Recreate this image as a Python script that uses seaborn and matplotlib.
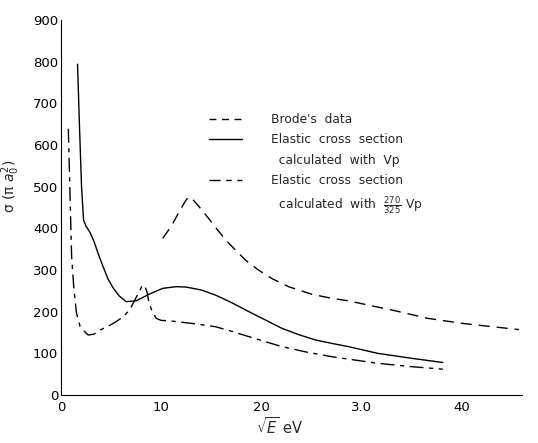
import matplotlib
matplotlib.use("Agg")
import matplotlib.pyplot as plt
import seaborn as sns
import pandas as pd
from matplotlib.lines import Line2D
from matplotlib.ticker import MultipleLocator, FixedLocator, FixedFormatter

# Brode's data (dashed)
brode_x = [10.15, 11.0, 11.8, 12.4, 12.7, 13.2, 14.2, 15.4, 16.4, 17.4, 18.5, 19.7,
           21.0, 22.7, 25.0, 27.0, 28.7, 31.0, 33.0, 36.6, 40.0, 43.0, 45.7]
brode_y = [376, 405, 440, 465, 475, 468, 440, 403, 373, 348, 322, 300,
           280, 260, 242, 232, 226, 214, 204, 184, 172, 164, 157]

# Elastic cross section with Vp (solid)
vp_x = [1.65, 1.85, 2.05, 2.25, 2.5, 2.9, 3.3, 3.7, 4.2, 4.7, 5.2, 5.8, 6.5, 7.5,
        8.8, 10.15, 11.5, 12.5, 14.0, 15.4, 17.0, 18.75, 20.4, 22.05, 23.7, 25.4,
        27.0, 28.7, 31.6, 35.0, 38.1]
vp_y = [794, 640, 500, 420, 405, 390, 368, 340, 308, 278, 257, 238, 224, 226,
        242, 256, 260, 259, 252, 240, 222, 200, 180, 160, 145, 132,
        124, 116, 100, 88, 78]

# Elastic cross section with 270/325 Vp (dash-dot)
vps_x = [0.73, 0.9, 1.06, 1.3, 1.55, 1.9, 2.2, 2.7, 3.3, 3.9, 4.7, 5.5, 6.2, 6.85,
         7.3, 7.8, 8.05, 8.3, 8.55, 8.8, 9.1, 9.5, 10.0, 10.8, 13.0, 15.4, 17.0,
         18.75, 20.4, 22.05, 24.5, 27.0, 31.6, 35.0, 38.1]
vps_y = [639, 480, 332, 250, 196, 165, 156, 144, 146, 156, 165, 176, 188, 204,
         225, 248, 260, 264, 250, 220, 200, 184, 179, 178, 172, 164, 153,
         140, 128, 116, 103, 92, 76, 68, 62]

x_ticks = [0, 10, 20, 30, 40]
x_tick_labels = ["0", "10", "20", "3.0", "40"]
y_ticks = [0, 100, 200, 300, 400, 500, 600, 700, 800, 900]

sns.set_theme(style="white")
plt.rcParams['font.family'] = ['DejaVu Sans']
plt.rcParams['mathtext.fontset'] = 'dejavusans'

fig = plt.figure(figsize=(5.38, 4.43), dpi=100)
ax = fig.add_axes([61/538, 1 - 395/443, 461/538, 375/443])

df_b = pd.DataFrame({"x": brode_x, "y": brode_y})
df_v = pd.DataFrame({"x": vp_x, "y": vp_y})
df_s = pd.DataFrame({"x": vps_x, "y": vps_y})

lw = 1.0
sns.lineplot(data=df_b, x="x", y="y", ax=ax, color="black", lw=lw, sort=False,
             estimator=None, linestyle=(0, (8, 5)))
sns.lineplot(data=df_v, x="x", y="y", ax=ax, color="black", lw=lw, sort=False,
             estimator=None)
sns.lineplot(data=df_s, x="x", y="y", ax=ax, color="black", lw=lw, sort=False,
             estimator=None, linestyle=(0, (10, 4, 3, 4)))

ax.set_xlim(0, 46)
ax.set_ylim(0, 900)
ax.xaxis.set_major_locator(FixedLocator(x_ticks))
ax.xaxis.set_major_formatter(FixedFormatter(x_tick_labels))
ax.xaxis.set_minor_locator(MultipleLocator(2))
ax.yaxis.set_major_locator(FixedLocator(y_ticks))
ax.yaxis.set_minor_locator(MultipleLocator(50))

for s in ["top", "right"]:
    ax.spines[s].set_visible(False)
for s in ["left", "bottom"]:
    ax.spines[s].set_color("black")
    ax.spines[s].set_linewidth(0.8)

ax.tick_params(axis="both", which="both", direction="in", colors="black",
               labelsize=9.5, width=0.7)
ax.tick_params(axis="both", which="major", length=5)
ax.tick_params(axis="both", which="minor", length=3)
ax.tick_params(axis="y", which="major", pad=2)
ax.tick_params(axis="x", which="major", pad=4)
ax.grid(False)

ax.set_xlabel(r"$\sqrt{E}$ eV", fontsize=10.5)
ax.set_ylabel(r"σ (π $a_0^2$)", fontsize=10)
ax.xaxis.set_label_coords((280 - 61) / 461, (395 - 416) / 375)
ax.yaxis.set_label_coords((22 - 61) / 461, (395 - 186) / 375)

handles = [
    Line2D([], [], color="black", lw=lw, linestyle=(0, (5, 4))),
    Line2D([], [], color="black", lw=lw),
    Line2D([], [], linestyle="none"),
    Line2D([], [], color="black", lw=lw, linestyle=(0, (8, 4, 4, 4))),
    Line2D([], [], linestyle="none"),
]
labels = [
    "Brode's  data",
    "Elastic  cross  section",
    "  calculated  with  Vp",
    "Elastic  cross  section",
    r"  calculated  with  $\frac{270}{325}$ Vp",
]
fs = 8.8
leg = ax.legend(handles, labels, loc="upper left", frameon=False, fontsize=fs,
                handlelength=2.7, handletextpad=2.4, labelspacing=0.6,
                borderpad=0, borderaxespad=0,
                bbox_to_anchor=(209 / 538, 1 - 113 / 443),
                bbox_transform=fig.transFigure)

fig.savefig("out.png", dpi=100)
